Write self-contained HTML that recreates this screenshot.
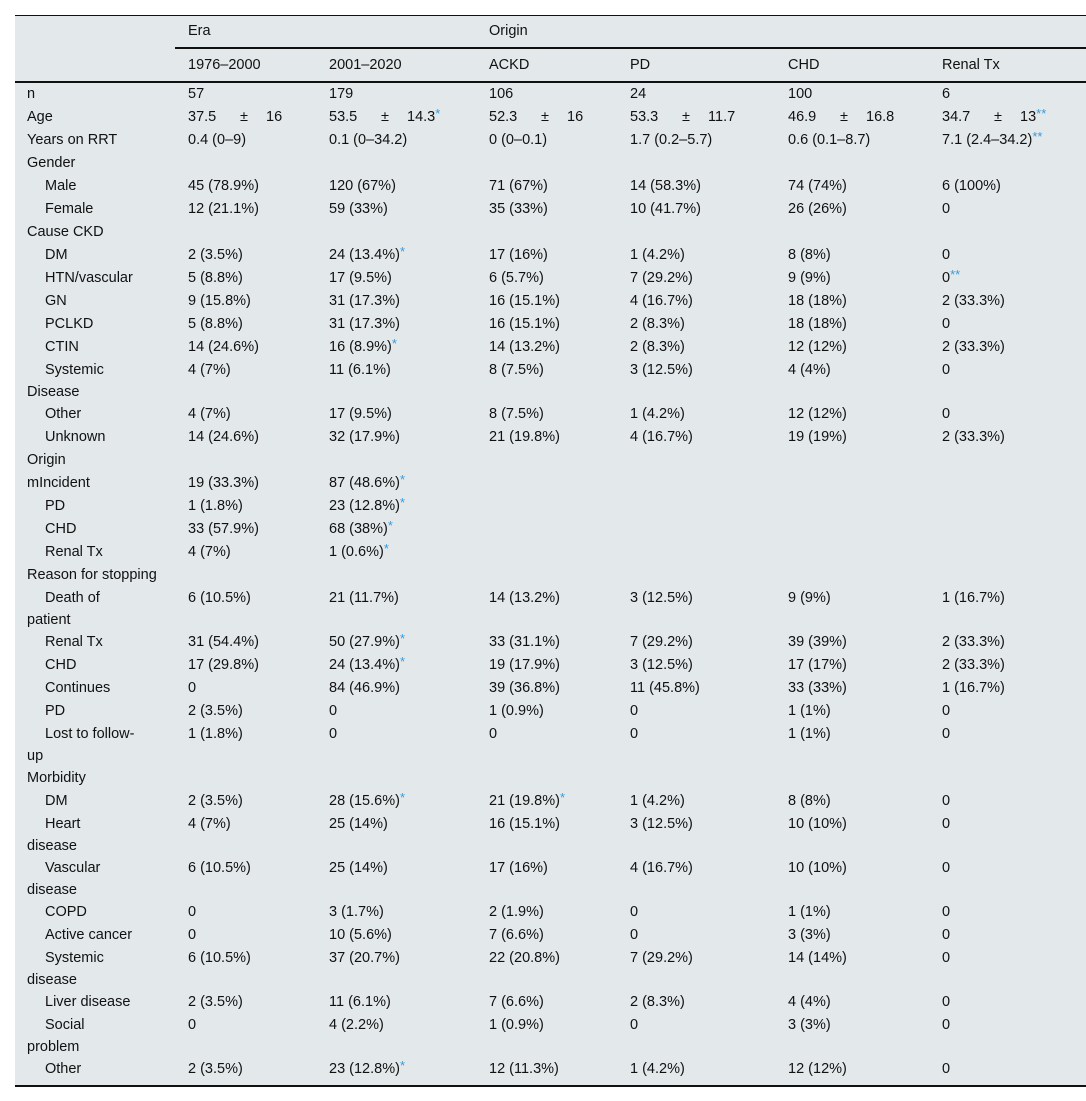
<!DOCTYPE html>
<html><head><meta charset="utf-8"><style>
html,body{margin:0;padding:0;background:#fff;width:1086px;height:1101px;overflow:hidden}
table{position:absolute;left:15px;top:15px;width:1071px;border-collapse:collapse;table-layout:fixed;background:#e3e8eb;font-family:"Liberation Sans",sans-serif;font-size:14.5px;color:#111;border-top:1px solid #111;border-bottom:2px solid #111}
td{padding:0 0 0 13px;height:23px;line-height:23px;vertical-align:top;white-space:nowrap;overflow:hidden}
td.l{padding-left:12px}
td.s{padding-left:12px;text-indent:18px;white-space:normal}
tr.w td{height:44px;line-height:22px}
tr.h1 td{height:31px;line-height:31px}
tr.h2 td{height:32px;line-height:32px;border-bottom:2px solid #111}
tr.h1 td.u{border-bottom:2px solid #111}
tr.last td{height:27px}
.a{color:#3a9ad9;font-size:13px;line-height:0;position:relative;top:-3px}
.pm{display:inline-block;width:52px}
.pm2{display:inline-block;width:26px}
</style></head><body>
<table>
<colgroup><col style="width:160px"><col style="width:141px"><col style="width:160px"><col style="width:141px"><col style="width:158px"><col style="width:154px"><col style="width:157px"></colgroup>
<tr class="h1"><td></td><td class="u" colspan="2">Era</td><td class="u" colspan="4">Origin</td></tr>
<tr class="h2"><td></td><td>1976–2000</td><td>2001–2020</td><td>ACKD</td><td>PD</td><td>CHD</td><td>Renal Tx</td></tr>
<tr><td class="l">n</td><td>57</td><td>179</td><td>106</td><td>24</td><td>100</td><td>6</td></tr>
<tr><td class="l">Age</td><td><span class="pm">37.5</span><span class="pm2">±</span>16</td><td><span class="pm">53.5</span><span class="pm2">±</span>14.3<span class="a">*</span></td><td><span class="pm">52.3</span><span class="pm2">±</span>16</td><td><span class="pm">53.3</span><span class="pm2">±</span>11.7</td><td><span class="pm">46.9</span><span class="pm2">±</span>16.8</td><td><span class="pm">34.7</span><span class="pm2">±</span>13<span class="a">**</span></td></tr>
<tr><td class="l">Years on RRT</td><td>0.4 (0–9)</td><td>0.1 (0–34.2)</td><td>0 (0–0.1)</td><td>1.7 (0.2–5.7)</td><td>0.6 (0.1–8.7)</td><td>7.1 (2.4–34.2)<span class="a">**</span></td></tr>
<tr><td class="l" colspan="7">Gender</td></tr>
<tr><td class="s">Male</td><td>45 (78.9%)</td><td>120 (67%)</td><td>71 (67%)</td><td>14 (58.3%)</td><td>74 (74%)</td><td>6 (100%)</td></tr>
<tr><td class="s">Female</td><td>12 (21.1%)</td><td>59 (33%)</td><td>35 (33%)</td><td>10 (41.7%)</td><td>26 (26%)</td><td>0</td></tr>
<tr><td class="l" colspan="7">Cause CKD</td></tr>
<tr><td class="s">DM</td><td>2 (3.5%)</td><td>24 (13.4%)<span class="a">*</span></td><td>17 (16%)</td><td>1 (4.2%)</td><td>8 (8%)</td><td>0</td></tr>
<tr><td class="s">HTN/vascular</td><td>5 (8.8%)</td><td>17 (9.5%)</td><td>6 (5.7%)</td><td>7 (29.2%)</td><td>9 (9%)</td><td>0<span class="a">**</span></td></tr>
<tr><td class="s">GN</td><td>9 (15.8%)</td><td>31 (17.3%)</td><td>16 (15.1%)</td><td>4 (16.7%)</td><td>18 (18%)</td><td>2 (33.3%)</td></tr>
<tr><td class="s">PCLKD</td><td>5 (8.8%)</td><td>31 (17.3%)</td><td>16 (15.1%)</td><td>2 (8.3%)</td><td>18 (18%)</td><td>0</td></tr>
<tr><td class="s">CTIN</td><td>14 (24.6%)</td><td>16 (8.9%)<span class="a">*</span></td><td>14 (13.2%)</td><td>2 (8.3%)</td><td>12 (12%)</td><td>2 (33.3%)</td></tr>
<tr class="w"><td class="s">Systemic<br>Disease</td><td>4 (7%)</td><td>11 (6.1%)</td><td>8 (7.5%)</td><td>3 (12.5%)</td><td>4 (4%)</td><td>0</td></tr>
<tr><td class="s">Other</td><td>4 (7%)</td><td>17 (9.5%)</td><td>8 (7.5%)</td><td>1 (4.2%)</td><td>12 (12%)</td><td>0</td></tr>
<tr><td class="s">Unknown</td><td>14 (24.6%)</td><td>32 (17.9%)</td><td>21 (19.8%)</td><td>4 (16.7%)</td><td>19 (19%)</td><td>2 (33.3%)</td></tr>
<tr><td class="l" colspan="7">Origin</td></tr>
<tr><td class="l">mIncident</td><td>19 (33.3%)</td><td>87 (48.6%)<span class="a">*</span></td><td></td><td></td><td></td><td></td></tr>
<tr><td class="s">PD</td><td>1 (1.8%)</td><td>23 (12.8%)<span class="a">*</span></td><td></td><td></td><td></td><td></td></tr>
<tr><td class="s">CHD</td><td>33 (57.9%)</td><td>68 (38%)<span class="a">*</span></td><td></td><td></td><td></td><td></td></tr>
<tr><td class="s">Renal Tx</td><td>4 (7%)</td><td>1 (0.6%)<span class="a">*</span></td><td></td><td></td><td></td><td></td></tr>
<tr><td class="l" colspan="7">Reason for stopping</td></tr>
<tr class="w"><td class="s">Death of<br>patient</td><td>6 (10.5%)</td><td>21 (11.7%)</td><td>14 (13.2%)</td><td>3 (12.5%)</td><td>9 (9%)</td><td>1 (16.7%)</td></tr>
<tr><td class="s">Renal Tx</td><td>31 (54.4%)</td><td>50 (27.9%)<span class="a">*</span></td><td>33 (31.1%)</td><td>7 (29.2%)</td><td>39 (39%)</td><td>2 (33.3%)</td></tr>
<tr><td class="s">CHD</td><td>17 (29.8%)</td><td>24 (13.4%)<span class="a">*</span></td><td>19 (17.9%)</td><td>3 (12.5%)</td><td>17 (17%)</td><td>2 (33.3%)</td></tr>
<tr><td class="s">Continues</td><td>0</td><td>84 (46.9%)</td><td>39 (36.8%)</td><td>11 (45.8%)</td><td>33 (33%)</td><td>1 (16.7%)</td></tr>
<tr><td class="s">PD</td><td>2 (3.5%)</td><td>0</td><td>1 (0.9%)</td><td>0</td><td>1 (1%)</td><td>0</td></tr>
<tr class="w"><td class="s">Lost to follow-<br>up</td><td>1 (1.8%)</td><td>0</td><td>0</td><td>0</td><td>1 (1%)</td><td>0</td></tr>
<tr><td class="l" colspan="7">Morbidity</td></tr>
<tr><td class="s">DM</td><td>2 (3.5%)</td><td>28 (15.6%)<span class="a">*</span></td><td>21 (19.8%)<span class="a">*</span></td><td>1 (4.2%)</td><td>8 (8%)</td><td>0</td></tr>
<tr class="w"><td class="s">Heart<br>disease</td><td>4 (7%)</td><td>25 (14%)</td><td>16 (15.1%)</td><td>3 (12.5%)</td><td>10 (10%)</td><td>0</td></tr>
<tr class="w"><td class="s">Vascular<br>disease</td><td>6 (10.5%)</td><td>25 (14%)</td><td>17 (16%)</td><td>4 (16.7%)</td><td>10 (10%)</td><td>0</td></tr>
<tr><td class="s">COPD</td><td>0</td><td>3 (1.7%)</td><td>2 (1.9%)</td><td>0</td><td>1 (1%)</td><td>0</td></tr>
<tr><td class="s">Active cancer</td><td>0</td><td>10 (5.6%)</td><td>7 (6.6%)</td><td>0</td><td>3 (3%)</td><td>0</td></tr>
<tr class="w"><td class="s">Systemic<br>disease</td><td>6 (10.5%)</td><td>37 (20.7%)</td><td>22 (20.8%)</td><td>7 (29.2%)</td><td>14 (14%)</td><td>0</td></tr>
<tr><td class="s">Liver disease</td><td>2 (3.5%)</td><td>11 (6.1%)</td><td>7 (6.6%)</td><td>2 (8.3%)</td><td>4 (4%)</td><td>0</td></tr>
<tr class="w"><td class="s">Social<br>problem</td><td>0</td><td>4 (2.2%)</td><td>1 (0.9%)</td><td>0</td><td>3 (3%)</td><td>0</td></tr>
<tr class="last"><td class="s">Other</td><td>2 (3.5%)</td><td>23 (12.8%)<span class="a">*</span></td><td>12 (11.3%)</td><td>1 (4.2%)</td><td>12 (12%)</td><td>0</td></tr>
</table>
</body></html>
